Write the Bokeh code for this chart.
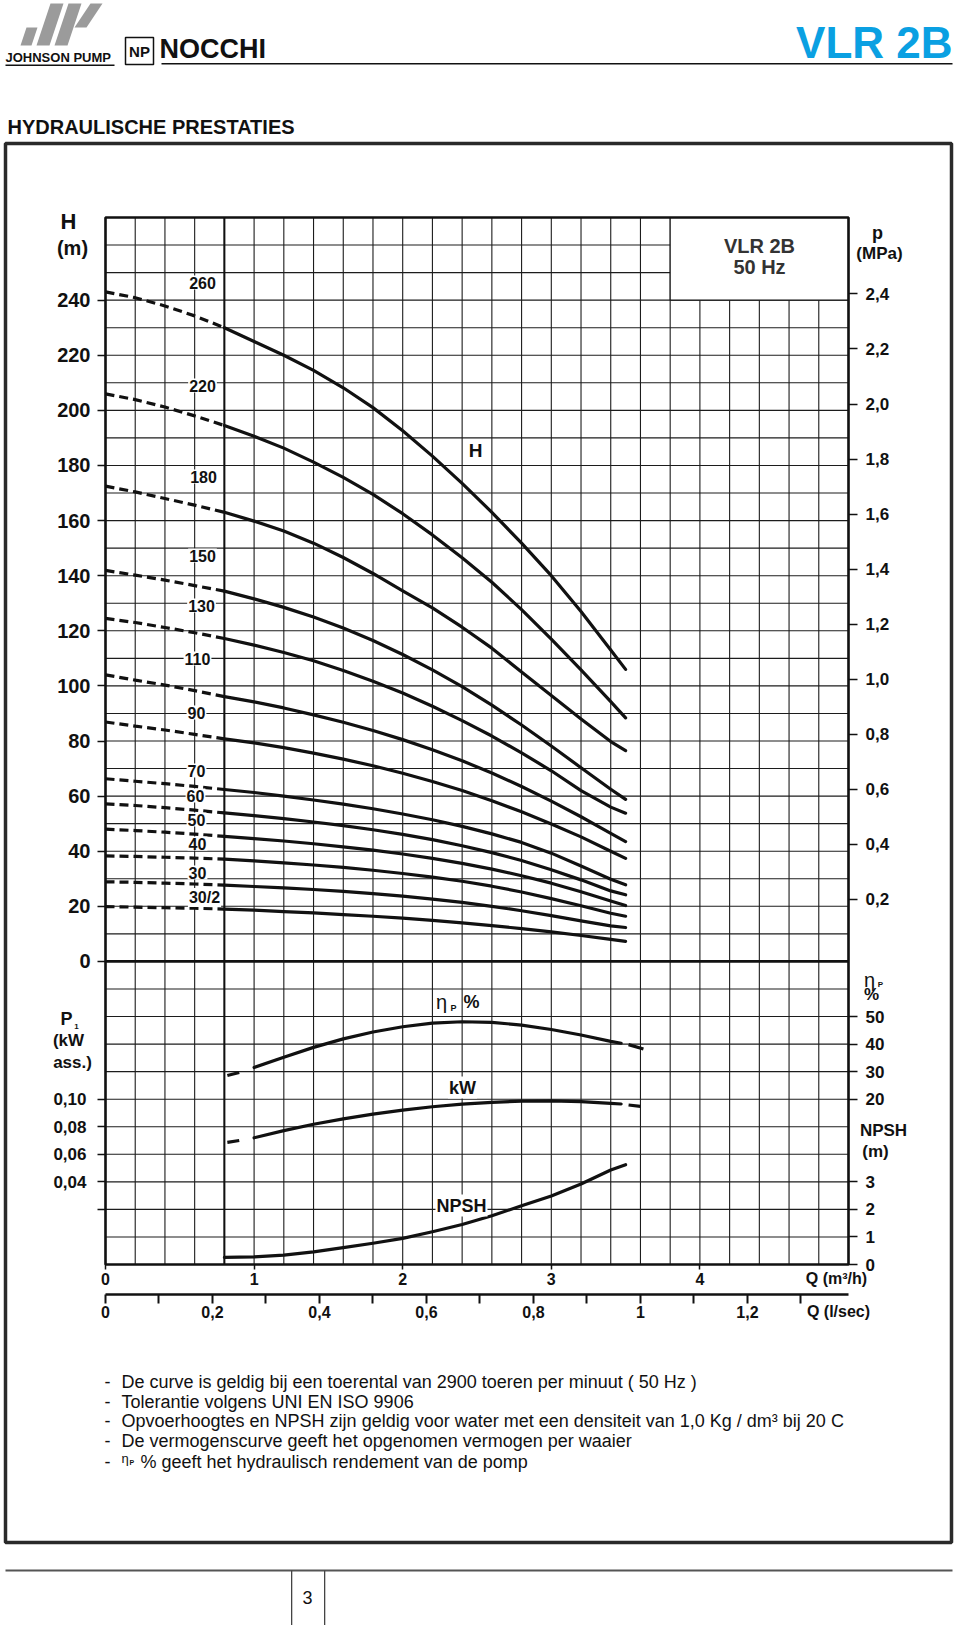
from bokeh.plotting import figure
from bokeh.models import Range1d, LinearAxis, FixedTicker, Label, BoxAnnotation, PolyAnnotation, Grid
from bokeh.embed import file_html
from bokeh.resources import INLINE

# ---------------- data ----------------
Q_H = [0.0, 0.2, 0.4, 0.6, 0.8, 1.0, 1.2, 1.4, 1.6, 1.8, 2.0, 2.2, 2.4, 2.6, 2.8, 3.0, 3.2, 3.4, 3.5]
MODELS = ["260", "220", "180", "150", "130", "110", "90", "70", "60", "50", "40", "30", "30/2"]
H_260 = [243.0, 240.9, 237.9, 234.3, 230.0, 225.0, 220.0, 214.5, 208.2, 201.0, 192.6, 183.4, 173.5, 163.0, 151.8, 140.0, 127.0, 113.0, 106.0]
H_220 = [206.0, 203.9, 201.2, 198.0, 194.5, 190.6, 186.3, 181.2, 175.7, 169.5, 162.5, 154.8, 146.5, 137.6, 127.7, 117.0, 105.8, 94.3, 88.4]
H_180 = [172.5, 170.4, 168.0, 165.6, 163.0, 159.8, 156.2, 151.8, 146.6, 140.8, 134.5, 128.3, 121.3, 113.7, 105.0, 96.5, 88.0, 79.8, 76.5]
H_150 = [141.9, 140.2, 138.4, 136.4, 134.4, 131.6, 128.5, 125.0, 121.0, 116.5, 111.4, 105.8, 99.7, 93.0, 85.8, 78.2, 70.3, 62.5, 58.8]
H_130 = [124.5, 123.0, 121.2, 119.3, 117.2, 114.8, 112.1, 109.1, 105.6, 101.7, 97.4, 92.6, 87.4, 81.8, 75.7, 69.2, 62.0, 56.0, 53.8]
H_110 = [104.0, 102.1, 100.3, 98.3, 96.1, 94.2, 92.0, 89.5, 86.8, 83.8, 80.5, 76.8, 72.8, 68.4, 63.5, 58.2, 52.5, 46.5, 43.5]
H_90 = [86.9, 85.4, 84.0, 82.4, 80.8, 79.3, 77.6, 75.6, 73.4, 71.0, 68.3, 65.3, 62.0, 58.3, 54.3, 49.9, 45.2, 40.0, 37.4]
H_70 = [66.3, 65.4, 64.5, 63.5, 62.4, 61.3, 60.0, 58.6, 57.1, 55.4, 53.5, 51.4, 49.0, 46.3, 43.2, 39.3, 34.6, 29.8, 27.8]
H_60 = [57.2, 56.6, 55.8, 54.9, 53.9, 52.9, 51.8, 50.6, 49.3, 47.8, 46.1, 44.2, 42.0, 39.5, 36.6, 33.3, 29.6, 25.6, 24.2]
H_50 = [48.0, 47.5, 46.9, 46.2, 45.4, 44.6, 43.7, 42.7, 41.6, 40.4, 39.0, 37.4, 35.6, 33.5, 31.1, 28.4, 25.3, 21.9, 20.3]
H_40 = [38.3, 38.1, 37.8, 37.5, 37.1, 36.5, 35.8, 35.0, 34.1, 33.1, 31.9, 30.6, 29.1, 27.3, 25.2, 22.8, 20.2, 17.5, 16.4]
H_30 = [28.9, 28.7, 28.4, 28.1, 27.7, 27.2, 26.7, 26.1, 25.4, 24.6, 23.7, 22.6, 21.4, 20.0, 18.4, 16.6, 14.7, 12.9, 12.3]
H_30_2 = [19.9, 19.7, 19.5, 19.3, 19.0, 18.6, 18.1, 17.6, 17.0, 16.4, 15.7, 14.9, 14.0, 13.0, 11.9, 10.7, 9.4, 8.0, 7.3]
H_CURVES = [H_260, H_220, H_180, H_150, H_130, H_110, H_90, H_70, H_60, H_50, H_40, H_30, H_30_2]

Q_ETA = [1.0, 1.2, 1.4, 1.6, 1.8, 2.0, 2.2, 2.4, 2.6, 2.8, 3.0, 3.2, 3.4, 3.47]
ETA = [31.5, 35.2, 38.8, 41.9, 44.4, 46.3, 47.6, 48.1, 47.9, 46.9, 45.3, 43.3, 41.0, 40.3]
Q_ETA_EXT_L = [0.82, 0.9]
ETA_EXT_L = [28.6, 29.7]
Q_ETA_EXT_R = [3.52, 3.62]
ETA_EXT_R = [39.8, 38.2]

Q_KW = [1.0, 1.2, 1.4, 1.6, 1.8, 2.0, 2.2, 2.4, 2.6, 2.8, 3.0, 3.2, 3.4, 3.47]
KW = [0.0720, 0.0772, 0.0818, 0.0857, 0.0891, 0.0920, 0.0945, 0.0964, 0.0977, 0.0986, 0.0988, 0.0982, 0.0970, 0.0965]
Q_KW_EXT_L = [0.82, 0.9]
KW_EXT_L = [0.0686, 0.0700]
Q_KW_EXT_R = [3.52, 3.6]
KW_EXT_R = [0.0958, 0.0948]

Q_NPSH = [0.8, 1.0, 1.2, 1.4, 1.6, 1.8, 2.0, 2.2, 2.4, 2.6, 2.8, 3.0, 3.2, 3.4, 3.5]
NPSH = [0.26, 0.28, 0.34, 0.46, 0.61, 0.77, 0.95, 1.19, 1.45, 1.77, 2.13, 2.49, 2.92, 3.43, 3.62]

# tick values / labels
H_TICKS = [0, 20, 40, 60, 80, 100, 120, 140, 160, 180, 200, 220, 240]
P_TICKS = [0.2, 0.4, 0.6, 0.8, 1.0, 1.2, 1.4, 1.6, 1.8, 2.0, 2.2, 2.4]
P_LABELS = ["0,2", "0,4", "0,6", "0,8", "1,0", "1,2", "1,4", "1,6", "1,8", "2,0", "2,2", "2,4"]
ETA_TICKS = [20, 30, 40, 50]
NPSH_TICKS = [0, 1, 2, 3]
KW_TICKS = [0.10, 0.08, 0.06, 0.04, 0.02]
KW_LABELS = ["0,10", "0,08", "0,06", "0,04", ""]
Q_TICKS = [0, 1, 2, 3, 4]
QLS_TICKS = [0.0, 0.1, 0.2, 0.3, 0.4, 0.5, 0.6, 0.7, 0.8, 0.9, 1.0, 1.1, 1.2, 1.3]
QLS_LABELS = ["0", "", "0,2", "", "0,4", "", "0,6", "", "0,8", "", "1", "", "1,2", ""]
GRID_Q = [round(i * 0.2, 6) for i in range(26)]
GRID_H = list(range(-110, 271, 10))
NOTES = [
    "De curve is geldig bij een toerental van 2900 toeren per minuut ( 50 Hz )",
    "Tolerantie volgens UNI EN ISO 9906",
    "Opvoerhoogtes en NPSH zijn geldig voor water met een densiteit van 1,0 Kg / dm\u00b3 bij 20 C",
    "De vermogenscurve geeft het opgenomen vermogen per waaier",
]
NOTE_LAST = "% geeft het hydraulisch rendement van de pomp"

# ---------------- scales ----------------
H_MIN, H_MAX = -110.0, 270.0
Q_MAX = 5.0
W, HT = 960, 1625
FX0, FX1, FY0, FY1 = 105, 848, 217, 1264      # chart area on the page (px)
PXQ = (FX1 - FX0) / Q_MAX
PXH = (FY1 - FY0) / (H_MAX - H_MIN)
X0, X1 = -FX0 / PXQ, (W - FX0) / PXQ
Y0, Y1 = H_MIN - (HT - FY1) / PXH, H_MAX + FY0 / PXH
H_LS_AXIS = H_MIN - 30 / PXH                  # second Q scale sits 30 px below the chart


def p_to_h(v):
    return round(2.5 + 99.9 * v, 6)


def h_to_eta(h):
    return h + 70.0


def h_to_kw(h):
    return 0.10 + 0.002 * (h + 50.0)


def h_to_npsh(h):
    return (h + 110.0) / 10.0


def eta_to_h(v):
    return round(v - 70.0, 6)


def kw_to_h(v):
    return round((v - 0.10) / 0.002 - 50.0, 6)


def npsh_to_h(v):
    return round(v * 10.0 - 110.0, 6)


FONT = "Liberation Sans"
INK = "#111111"

p = figure(width=W, height=HT, x_range=Range1d(X0, X1), y_range=Range1d(Y0, Y1),
           output_backend="svg", toolbar_location=None, title=None,
           x_axis_location=None, y_axis_location=None, min_border=0,
           outline_line_color=None, background_fill_color="white", border_fill_color="white")
for g in p.select(type=Grid):
    g.visible = False
p.extra_y_ranges = {
    "eta": Range1d(h_to_eta(Y0), h_to_eta(Y1)),
    "kw": Range1d(h_to_kw(Y0), h_to_kw(Y1)),
    "npsh": Range1d(h_to_npsh(Y0), h_to_npsh(Y1)),
}
p.extra_x_ranges = {"ls": Range1d(X0 / 3.6, X1 / 3.6)}


def style_axis(a, size, tick_out, standoff, tick_w=1.5):
    a.major_tick_in = 0
    a.major_tick_out = tick_out
    a.major_tick_line_width = tick_w
    a.major_tick_line_color = INK
    a.minor_tick_line_color = None
    a.major_label_standoff = standoff
    a.major_label_text_font = FONT
    a.major_label_text_font_style = "bold"
    a.major_label_text_font_size = f"{size}px"
    a.major_label_text_color = INK


# left axis (H; kW tick marks unlabeled here, labelled through the kW scale below)
ax = LinearAxis(fixed_location=0, bounds=(H_MIN, H_MAX),
                ticker=FixedTicker(ticks=H_TICKS + [kw_to_h(k) for k in KW_TICKS]),
                major_label_overrides={kw_to_h(k): "" for k in KW_TICKS}, axis_line_color=None)
style_axis(ax, 20, 8, 7)
p.add_layout(ax, "left")

# right axis: p (MPa), eta %, NPSH (m)
right_ticks = [p_to_h(v) for v in P_TICKS] + [eta_to_h(v) for v in ETA_TICKS] + [npsh_to_h(v) for v in NPSH_TICKS]
right_labels = {}
for v, s in zip(P_TICKS, P_LABELS):
    right_labels[p_to_h(v)] = s
for v in ETA_TICKS:
    right_labels[eta_to_h(v)] = str(v)
for v in NPSH_TICKS:
    right_labels[npsh_to_h(v)] = str(v)
ar = LinearAxis(fixed_location=Q_MAX, bounds=(H_MIN, H_MAX), ticker=FixedTicker(ticks=right_ticks),
                major_label_overrides=right_labels, axis_line_color=None)
style_axis(ar, 17, 9, 8)
p.add_layout(ar, "right")

# bottom axes
axq = LinearAxis(fixed_location=H_MIN, bounds=(0, Q_MAX), ticker=FixedTicker(ticks=Q_TICKS), axis_line_color=None)
style_axis(axq, 16, 5, 3)
p.add_layout(axq, "below")

als = LinearAxis(x_range_name="ls", fixed_location=H_LS_AXIS, bounds=(0, Q_MAX / 3.6),
                 ticker=FixedTicker(ticks=QLS_TICKS),
                 major_label_overrides={t: s for t, s in zip(QLS_TICKS, QLS_LABELS)},
                 axis_line_color=INK, axis_line_width=2.5)
style_axis(als, 16, 9, 2, tick_w=2)
p.add_layout(als, "below")

# grid
p.segment(x0=GRID_Q, y0=[H_MIN] * len(GRID_Q), x1=GRID_Q, y1=[H_MAX] * len(GRID_Q),
          line_color="#1c1c1c", line_width=1.1)
p.segment(x0=[0] * len(GRID_H), y0=GRID_H, x1=[Q_MAX] * len(GRID_H), y1=GRID_H,
          line_color="#1c1c1c", line_width=1.1)
# heavier reference lines (H = 0 and Q = 0.8)
p.segment(x0=[0], y0=[0], x1=[Q_MAX], y1=[0], line_color=INK, line_width=2.6)
p.segment(x0=[0.8], y0=[H_MIN], x1=[0.8], y1=[H_MAX], line_color=INK, line_width=2.0)

# H-Q curves
for hs in H_CURVES:
    p.line(Q_H[:5], hs[:5], line_color=INK, line_width=3.2, line_dash="9 5")
    p.line(Q_H[4:], hs[4:], line_color=INK, line_width=3.2, line_join="round", line_cap="round")

# efficiency, power, NPSH
p.line(Q_ETA, ETA, y_range_name="eta", line_color=INK, line_width=3.2, line_join="round", line_cap="round")
p.line(Q_ETA_EXT_L, ETA_EXT_L, y_range_name="eta", line_color=INK, line_width=3.2)
p.line(Q_ETA_EXT_R, ETA_EXT_R, y_range_name="eta", line_color=INK, line_width=3.2)
p.line(Q_KW, KW, y_range_name="kw", line_color=INK, line_width=3.2, line_join="round", line_cap="round")
p.line(Q_KW_EXT_L, KW_EXT_L, y_range_name="kw", line_color=INK, line_width=3.2)
p.line(Q_KW_EXT_R, KW_EXT_R, y_range_name="kw", line_color=INK, line_width=3.2)
p.line(Q_NPSH, NPSH, y_range_name="npsh", line_color=INK, line_width=3.2, line_join="round", line_cap="round")

# box for the model name (masks grid)
p.add_layout(BoxAnnotation(left=3.8, right=Q_MAX, bottom=240, top=H_MAX, fill_color="white", fill_alpha=1.0,
                           line_color=INK, line_alpha=1.0, line_width=1.1))
# chart border
p.add_layout(BoxAnnotation(left=0, right=Q_MAX, bottom=H_MIN, top=H_MAX, fill_alpha=0.0,
                           line_color=INK, line_alpha=1.0, line_width=2.6, level="overlay"))


def txt(x, y, s, size, bold=False, align="left", baseline="middle", color=INK, bg=None, pad=0, **kw):
    lab = Label(x=x, y=y, text=s, text_font=FONT, text_font_size=f"{size}px",
                text_font_style="bold" if bold else "normal", text_align=align,
                text_baseline=baseline, text_color=color, **kw)
    lab.x_units = "canvas"
    if "y_range_name" not in kw:
        lab.y_units = "canvas"
    if bg:
        lab.background_fill_color = bg
        lab.padding = pad
    p.add_layout(lab)
    return lab


def cbox(l, r, t, b, **kw):
    kw.setdefault("line_alpha", 1.0)
    p.add_layout(BoxAnnotation(left=l, right=r, top=t, bottom=b, left_units="canvas", right_units="canvas",
                               top_units="canvas", bottom_units="canvas", **kw))


# kW tick labels (through the kW scale)
for v, s in zip(KW_TICKS, KW_LABELS):
    if s:
        txt(86, v, s, 17, bold=True, align="right", y_range_name="kw")

# model labels
MODEL_POS = [(202, 282), (202, 385), (203, 476), (202, 555), (201, 605), (197, 658), (196, 712),
             (196, 770), (195, 795), (196, 819), (197, 843), (197, 872), (204, 897)]
for name, (x, y) in zip(MODELS, MODEL_POS):
    txt(x, y, name, 16, bold=True, align="center", bg="white", pad=1)

# in-chart labels
txt(475, 450, "H", 19, bold=True, align="center")
txt(441, 1001, "\u03b7", 20, align="center", bg="white", pad=0)
txt(453, 1007, "P", 9, bold=True, align="center", bg="white", pad=0)
txt(471, 1001, "%", 18, bold=True, align="center", bg="white", pad=0)
txt(462, 1087, "kW", 18, bold=True, align="center", bg="white", pad=1)
txt(461, 1205, "NPSH", 18, bold=True, align="center", bg="white", pad=1)

# model name box text
txt(759, 245, "VLR 2B", 20, bold=True, align="center", color="#333333")
txt(759, 266, "50 Hz", 20, bold=True, align="center", color="#333333")

# axis titles
txt(68, 221, "H", 22, bold=True, align="center")
txt(72, 247, "(m)", 20, bold=True, align="center")
txt(877, 232, "p", 18, bold=True, align="center")
txt(879, 253, "(MPa)", 17, bold=True, align="center")
txt(869, 979, "\u03b7", 20, align="center")
txt(880, 984, "P", 8, bold=True, align="center")
txt(871, 994, "%", 17, bold=True, align="center")
txt(883, 1130, "NPSH", 17, bold=True, align="center")
txt(875, 1151, "(m)", 17, bold=True, align="center")
txt(66, 1018, "P", 18, bold=True, align="center")
txt(76, 1026, "1", 8, bold=True, align="center")
txt(68, 1040, "(kW", 17, bold=True, align="center")
txt(72, 1062, "ass.)", 17, bold=True, align="center")
txt(836, 1278, "Q (m\u00b3/h)", 16, bold=True, align="center")
txt(838, 1311, "Q (l/sec)", 16, bold=True, align="center")

# ---------------- page decoration ----------------
for xs, ys in [([20, 31, 37, 26], [45, 45, 27, 27]),
               ([36, 49, 63, 50], [45, 45, 3, 3]),
               ([54, 67, 81, 68], [45, 45, 3, 3]),
               ([74, 86, 102, 90], [27, 27, 3, 3])]:
    p.add_layout(PolyAnnotation(xs=xs, ys=ys, xs_units="canvas", ys_units="canvas",
                                fill_color="#9b9b9b", fill_alpha=1.0, line_alpha=0.0))
txt(5, 57, "JOHNSON PUMP", 13, bold=True)
cbox(5, 114, 64, 65.5, fill_color=INK, fill_alpha=1, line_alpha=0)
cbox(125, 153, 37, 64, fill_alpha=0, line_color=INK, line_width=1.5)
txt(139, 51, "NP", 15, bold=True, align="center")
txt(159, 48, "NOCCHI", 27, bold=True)
cbox(161, 952, 62.5, 64, fill_color=INK, fill_alpha=1, line_alpha=0)
txt(952, 42, "VLR 2B", 44, bold=True, align="right", color="#0aa0e2")
txt(7, 126, "HYDRAULISCHE PRESTATIES", 20, bold=True)

# outer frame
cbox(5, 951, 143, 1542, fill_alpha=0, line_color="#2a2a2a", line_width=3.5)

# notes
NOTE_Y = [1381, 1401, 1420, 1440]
for y, s in zip(NOTE_Y, NOTES):
    txt(104, y, "-", 18)
    txt(121, y, s, 18)
txt(104, 1461, "-", 18)
txt(121, 1458, "\u03b7", 13)
txt(129, 1462, "P", 7, bold=True)
txt(140, 1461, NOTE_LAST, 18)

# footer
cbox(5, 952, 1569, 1571, fill_color="#555555", fill_alpha=1, line_alpha=0)
for xl in (290.5, 323.5):
    cbox(xl, xl + 1.3, 1570, 1625, fill_color="#444444", fill_alpha=1, line_alpha=0)
txt(307, 1597, "3", 18, align="center")

open("out.html", "w").write(file_html(p, INLINE))
